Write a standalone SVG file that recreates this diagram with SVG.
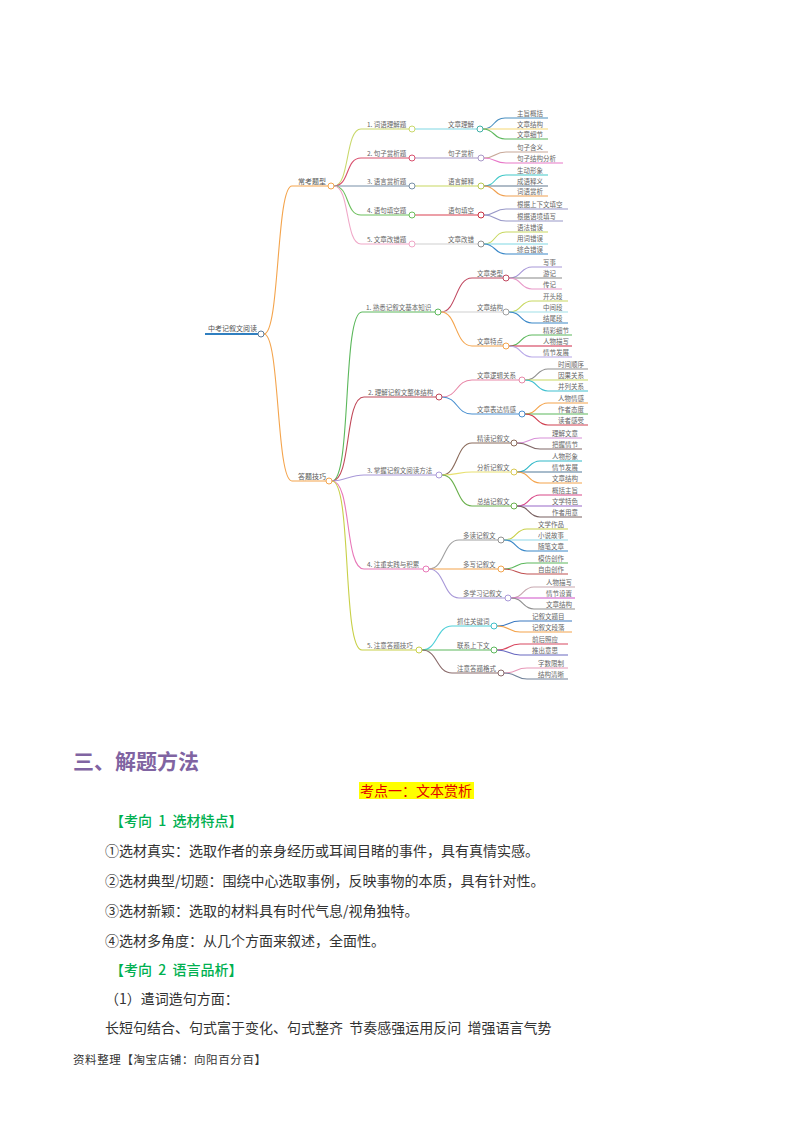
<svg xmlns="http://www.w3.org/2000/svg" width="800" height="1132" viewBox="0 0 800 1132">
<style>
.t{font-family:"Noto Sans CJK SC","Noto Sans",sans-serif;font-size:6.5px;fill:#666}
.r{font-family:"Noto Sans CJK SC","Noto Sans",sans-serif;font-size:7px;fill:#555}
.c{fill:#fff;stroke-width:1}
#links path{fill:none;stroke-width:1.1}
.body{font-family:"Noto Sans CJK SC","Noto Sans",sans-serif;font-size:14px;fill:#333}
.green{font-family:"Noto Sans CJK SC","Noto Sans",sans-serif;font-size:14px;fill:#00b050;font-weight:500}
</style>
<rect width="800" height="1132" fill="#fff"/>
<g id="links">
<path d="M205,334 L258,334" stroke="#2f7fc0" style="stroke-width:2"/>
<path d="M264,334 C280,334 276,186 292,186 L328,186" stroke="#f4a44c"/>
<path d="M264,334 C280,334 276,481 292,481 L326,481" stroke="#f4a44c"/>
<path d="M334,186 C350,186 345,129 361,129 L409,129" stroke="#c9d86b"/>
<path d="M334,186 C350,186 345,158 361,158 L409,158" stroke="#d9506e"/>
<path d="M334,186 L409,186" stroke="#7890a8"/>
<path d="M334,186 C350,186 345,215 361,215 L409,215" stroke="#6cbf5c"/>
<path d="M334,186 C350,186 345,244 361,244 L409,244" stroke="#f0a8c8"/>
<path d="M415,129 L477,129" stroke="#80d8e4"/>
<path d="M415,158 L478,158" stroke="#a898c8"/>
<path d="M415,186 L478,186" stroke="#c8d860"/>
<path d="M415,215 L478,215" stroke="#d94050"/>
<path d="M415,244 L478,244" stroke="#cfcfcf"/>
<path d="M483,129 C495,129 493,118 505,118 L548,118" stroke="#4a8fc0"/>
<path d="M483,129 L548,129" stroke="#f5d874"/>
<path d="M483,129 C495,129 493,139 505,139 L548,139" stroke="#5cb85c"/>
<path d="M484,158 C496,158 494,152 506,152 L548,152" stroke="#c8a898"/>
<path d="M484,158 C496,158 494,163 506,163 L563,163" stroke="#e878c8"/>
<path d="M484,186 C496,186 494,175 506,175 L548,175" stroke="#40c8c8"/>
<path d="M484,186 L548,186" stroke="#607890"/>
<path d="M484,186 C496,186 494,196 506,196 L548,196" stroke="#f0a050"/>
<path d="M484,215 C496,215 494,209 506,209 L568,209" stroke="#9898c8"/>
<path d="M484,215 C496,215 494,221 506,221 L563,221" stroke="#9898c8"/>
<path d="M484,244 C496,244 494,232 506,232 L548,232" stroke="#c8d860"/>
<path d="M484,244 L548,244" stroke="#80d8e4"/>
<path d="M484,244 C496,244 494,254 506,254 L548,254" stroke="#3a88c8"/>
<path d="M332,481 C352,481 342,312 362,312 L435,312" stroke="#5cb85c"/>
<path d="M332,481 C352,481 344,397 364,397 L436,397" stroke="#c04858"/>
<path d="M332,481 C345,481 350,475 364,475 L436,475" stroke="#a898d8"/>
<path d="M332,481 C352,481 344,569 364,569 L423,569" stroke="#e878b8"/>
<path d="M332,481 C352,481 342,650 362,650 L416,650" stroke="#c8d048"/>
<path d="M441,312 C457,312 455,278 472,278 L503,278" stroke="#c04860"/>
<path d="M441,312 L503,312" stroke="#d0d0d0"/>
<path d="M441,312 C457,312 455,346 472,346 L503,346" stroke="#f4a44c"/>
<path d="M509,278 C522,278 520,267 532,267 L562,267" stroke="#a898d8"/>
<path d="M509,278 L562,278" stroke="#888888"/>
<path d="M509,278 C522,278 520,289 532,289 L562,289" stroke="#e898c8"/>
<path d="M509,312 C522,312 520,301 532,301 L568,301" stroke="#c8d860"/>
<path d="M509,312 L568,312" stroke="#a0e0e8"/>
<path d="M509,312 C522,312 520,323 532,323 L568,323" stroke="#3a88c8"/>
<path d="M509,346 C522,346 520,335 532,335 L572,335" stroke="#5cb85c"/>
<path d="M509,346 L572,346" stroke="#d02848"/>
<path d="M509,346 C522,346 520,357 532,357 L572,357" stroke="#b8a8e8"/>
<path d="M442,397 C458,397 456,380 472,380 L519,380" stroke="#e888a8"/>
<path d="M442,397 C458,397 456,414 472,414 L519,414" stroke="#4a90d0"/>
<path d="M525,380 C538,380 536,369 548,369 L588,369" stroke="#909090"/>
<path d="M525,380 L588,380" stroke="#c8d860"/>
<path d="M525,380 C538,380 536,391 548,391 L588,391" stroke="#40c0d0"/>
<path d="M525,414 C538,414 536,403 548,403 L588,403" stroke="#f4a44c"/>
<path d="M525,414 L588,414" stroke="#5cb85c"/>
<path d="M525,414 C538,414 536,425 548,425 L588,425" stroke="#d04050"/>
<path d="M442,475 C458,475 456,443 472,443 L511,443" stroke="#8a6a5a"/>
<path d="M442,475 C456,475 460,472 472,472 L511,472" stroke="#e8e070"/>
<path d="M442,475 C458,475 456,506 472,506 L511,506" stroke="#6ab04c"/>
<path d="M517,443 C530,443 528,438 540,438 L582,438" stroke="#d890d8"/>
<path d="M517,443 C530,443 528,449 540,449 L582,449" stroke="#806868"/>
<path d="M517,472 C530,472 528,461 540,461 L582,461" stroke="#30b8c8"/>
<path d="M517,472 L582,472" stroke="#507898"/>
<path d="M517,472 C530,472 528,483 540,483 L582,483" stroke="#f4a44c"/>
<path d="M517,506 C530,506 528,495 540,495 L582,495" stroke="#d84888"/>
<path d="M517,506 L582,506" stroke="#9868c8"/>
<path d="M517,506 C530,506 528,517 540,517 L582,517" stroke="#786060"/>
<path d="M429,569 C445,569 443,540 459,540 L498,540" stroke="#a0a0a0"/>
<path d="M429,569 L498,569" stroke="#f4a44c"/>
<path d="M429,569 C445,569 443,598 459,598 L505,598" stroke="#a898d8"/>
<path d="M504,540 C517,540 515,529 527,529 L568,529" stroke="#c8d048"/>
<path d="M504,540 L568,540" stroke="#90d8e8"/>
<path d="M504,540 C517,540 515,551 527,551 L568,551" stroke="#3a88c8"/>
<path d="M504,569 C517,569 515,563 527,563 L568,563" stroke="#5cb85c"/>
<path d="M504,569 C517,569 515,574 527,574 L568,574" stroke="#c05050"/>
<path d="M511,598 C524,598 522,587 534,587 L575,587" stroke="#c8a8b0"/>
<path d="M511,598 L575,598" stroke="#d050c8"/>
<path d="M511,598 C524,598 522,609 534,609 L575,609" stroke="#909090"/>
<path d="M422,650 C438,650 436,626 452,626 L491,626" stroke="#50d0d8"/>
<path d="M422,650 L491,650" stroke="#5cb85c"/>
<path d="M422,650 C438,650 436,673 452,673 L498,673" stroke="#8a6a6a"/>
<path d="M497,626 C510,626 508,621 520,621 L572,621" stroke="#3a78c0"/>
<path d="M497,626 C510,626 508,632 520,632 L572,632" stroke="#f4a44c"/>
<path d="M497,650 C510,650 508,644 520,644 L568,644" stroke="#d84860"/>
<path d="M497,650 C510,650 508,655 520,655 L568,655" stroke="#6868c0"/>
<path d="M504,673 C517,673 515,668 527,668 L568,668" stroke="#e898b8"/>
<path d="M504,673 C517,673 515,679 527,679 L568,679" stroke="#708098"/>
</g>
<g id="root"><text class="r" x="208" y="331">中考记叙文阅读</text><circle class="c" cx="261" cy="334" r="3" stroke="#5a7a9a"/></g>
<g id="b1"><text class="r" x="298" y="184">常考题型</text><circle class="c" cx="331" cy="186" r="3" stroke="#f4a44c"/></g>
<g id="b2"><text class="r" x="298" y="479">答题技巧</text><circle class="c" cx="329" cy="481" r="3" stroke="#f4a44c"/></g>
<g id="b1c1"><text class="t" x="367" y="127">1. 词语理解题</text><circle class="c" cx="412" cy="129" r="3" stroke="#c9d86b"/></g>
<g id="b1c2"><text class="t" x="367" y="156">2. 句子赏析题</text><circle class="c" cx="412" cy="158" r="3" stroke="#d9506e"/></g>
<g id="b1c3"><text class="t" x="367" y="184">3. 语言赏析题</text><circle class="c" cx="412" cy="186" r="3" stroke="#7890a8"/></g>
<g id="b1c4"><text class="t" x="367" y="213">4. 语句填空题</text><circle class="c" cx="412" cy="215" r="3" stroke="#6cbf5c"/></g>
<g id="b1c5"><text class="t" x="367" y="242">5. 文章改错题</text><circle class="c" cx="412" cy="244" r="3" stroke="#f0a8c8"/></g>
<g id="g1"><text class="t" x="448" y="127">文章理解</text><circle class="c" cx="480" cy="129" r="3" stroke="#40b0a8"/></g>
<g id="g2"><text class="t" x="448" y="156">句子赏析</text><circle class="c" cx="481" cy="158" r="3" stroke="#a898c8"/></g>
<g id="g3"><text class="t" x="448" y="184">语言解释</text><circle class="c" cx="481" cy="186" r="3" stroke="#b8c850"/></g>
<g id="g4"><text class="t" x="448" y="213">语句填空</text><circle class="c" cx="481" cy="215" r="3" stroke="#c83040"/></g>
<g id="g5"><text class="t" x="448" y="242">文章改错</text><circle class="c" cx="481" cy="244" r="3" stroke="#909090"/></g>
<g id="leaves1">
<text class="t" x="517" y="116">主旨概括</text><text class="t" x="517" y="127">文章结构</text><text class="t" x="517" y="137">文章细节</text>
<text class="t" x="517" y="150">句子含义</text><text class="t" x="517" y="161">句子结构分析</text>
<text class="t" x="517" y="173">生动形象</text><text class="t" x="517" y="184">成语释义</text><text class="t" x="517" y="194">词语赏析</text>
<text class="t" x="517" y="207">根据上下文填空</text><text class="t" x="517" y="219">根据语境填写</text>
<text class="t" x="517" y="230">语法错误</text><text class="t" x="517" y="241">用词错误</text><text class="t" x="517" y="252">综合错误</text>
</g>
<g id="s1"><text class="t" x="366" y="310">1. 熟悉记叙文基本知识</text><circle class="c" cx="438" cy="312" r="3" stroke="#5cb85c"/></g>
<g id="s2"><text class="t" x="368" y="395">2. 理解记叙文整体结构</text><circle class="c" cx="439" cy="397" r="3" stroke="#c04858"/></g>
<g id="s3"><text class="t" x="367" y="473">3. 掌握记叙文阅读方法</text><circle class="c" cx="439" cy="475" r="3" stroke="#a898d8"/></g>
<g id="s4"><text class="t" x="367" y="567">4. 注重实践与积累</text><circle class="c" cx="426" cy="569" r="3" stroke="#e878b8"/></g>
<g id="s5"><text class="t" x="367" y="648">5. 注意答题技巧</text><circle class="c" cx="419" cy="650" r="3" stroke="#c8d048"/></g>
<g id="s1g1"><text class="t" x="477" y="276">文章类型</text><circle class="c" cx="506" cy="278" r="3" stroke="#c04860"/></g>
<g id="s1g2"><text class="t" x="477" y="310">文章结构</text><circle class="c" cx="506" cy="312" r="3" stroke="#a0a0a0"/></g>
<g id="s1g3"><text class="t" x="477" y="344">文章特点</text><circle class="c" cx="506" cy="346" r="3" stroke="#f4a44c"/></g>
<g id="s2g1"><text class="t" x="477" y="378">文章逻辑关系</text><circle class="c" cx="522" cy="380" r="3" stroke="#e888a8"/></g>
<g id="s2g2"><text class="t" x="477" y="412">文章表达情感</text><circle class="c" cx="522" cy="414" r="3" stroke="#4a90d0"/></g>
<g id="s3g1"><text class="t" x="477" y="441">精读记叙文</text><circle class="c" cx="514" cy="443" r="3" stroke="#8a6a5a"/></g>
<g id="s3g2"><text class="t" x="477" y="470">分析记叙文</text><circle class="c" cx="514" cy="472" r="3" stroke="#d8c850"/></g>
<g id="s3g3"><text class="t" x="477" y="504">总结记叙文</text><circle class="c" cx="514" cy="506" r="3" stroke="#6ab04c"/></g>
<g id="s4g1"><text class="t" x="463" y="538">多读记叙文</text><circle class="c" cx="501" cy="540" r="3" stroke="#909090"/></g>
<g id="s4g2"><text class="t" x="463" y="567">多写记叙文</text><circle class="c" cx="501" cy="569" r="3" stroke="#f4a44c"/></g>
<g id="s4g3"><text class="t" x="463" y="596">多学习记叙文</text><circle class="c" cx="508" cy="598" r="3" stroke="#a898d8"/></g>
<g id="s5g1"><text class="t" x="457" y="624">抓住关键词</text><circle class="c" cx="494" cy="626" r="3" stroke="#40c0c8"/></g>
<g id="s5g2"><text class="t" x="457" y="648">联系上下文</text><circle class="c" cx="494" cy="650" r="3" stroke="#5cb85c"/></g>
<g id="s5g3"><text class="t" x="457" y="671">注意答题格式</text><circle class="c" cx="501" cy="673" r="3" stroke="#8a6a6a"/></g>
<g id="leaves2">
<text class="t" x="543" y="265">写事</text><text class="t" x="543" y="276">游记</text><text class="t" x="543" y="287">传记</text>
<text class="t" x="543" y="299">开头段</text><text class="t" x="543" y="310">中间段</text><text class="t" x="543" y="321">结尾段</text>
<text class="t" x="543" y="333">精彩细节</text><text class="t" x="543" y="344">人物描写</text><text class="t" x="543" y="355">情节发展</text>
<text class="t" x="558" y="367">时间顺序</text><text class="t" x="558" y="378">因果关系</text><text class="t" x="558" y="389">并列关系</text>
<text class="t" x="558" y="401">人物情感</text><text class="t" x="558" y="412">作者态度</text><text class="t" x="558" y="423">读者感受</text>
<text class="t" x="552" y="436">理解文意</text><text class="t" x="552" y="447">把握情节</text>
<text class="t" x="552" y="459">人物形象</text><text class="t" x="552" y="470">情节发展</text><text class="t" x="552" y="481">文章结构</text>
<text class="t" x="552" y="493">概括主旨</text><text class="t" x="552" y="504">文学特色</text><text class="t" x="552" y="515">作者用意</text>
<text class="t" x="538" y="527">文学作品</text><text class="t" x="538" y="538">小说故事</text><text class="t" x="538" y="549">随笔文章</text>
<text class="t" x="538" y="561">模仿创作</text><text class="t" x="538" y="572">自由创作</text>
<text class="t" x="546" y="585">人物描写</text><text class="t" x="546" y="596">情节设置</text><text class="t" x="546" y="607">文章结构</text>
<text class="t" x="532" y="619">记叙文题目</text><text class="t" x="532" y="630">记叙文段落</text>
<text class="t" x="532" y="642">前后照应</text><text class="t" x="532" y="653">推出意思</text>
<text class="t" x="538" y="666">字数限制</text><text class="t" x="538" y="677">结构清晰</text>
</g>
<text x="73" y="769" style="font-family:'Noto Sans CJK SC',sans-serif;font-size:21px;font-weight:bold;fill:#8064a2">三、解题方法</text>
<rect x="359" y="782" width="115" height="17" fill="#ffff00"/>
<text x="360" y="796" style="font-family:'Noto Sans CJK SC',sans-serif;font-size:14px;fill:#e00000">考点一：文本赏析</text>
<text class="green" x="110" y="826">【考向&#160;&#160;1&#160;&#160;选材特点】</text>
<text class="body" x="105" y="856">①选材真实：选取作者的亲身经历或耳闻目睹的事件，具有真情实感。</text>
<text class="body" x="105" y="886">②选材典型/切题：围绕中心选取事例，反映事物的本质，具有针对性。</text>
<text class="body" x="105" y="916">③选材新颖：选取的材料具有时代气息/视角独特。</text>
<text class="body" x="105" y="946">④选材多角度：从几个方面来叙述，全面性。</text>
<text class="green" x="110" y="975">【考向&#160;&#160;2&#160;&#160;语言品析】</text>
<text class="body" x="105" y="1004">（1）遣词造句方面：</text>
<text class="body" x="105" y="1033">长短句结合、句式富于变化、句式整齐&#160;&#160;节奏感强运用反问&#160;&#160;增强语言气势</text>
<text x="73" y="1064" style="font-family:'Noto Sans CJK SC',sans-serif;font-size:11.5px;fill:#333;letter-spacing:0.6px">资料整理【淘宝店铺：向阳百分百】</text>
</svg>
